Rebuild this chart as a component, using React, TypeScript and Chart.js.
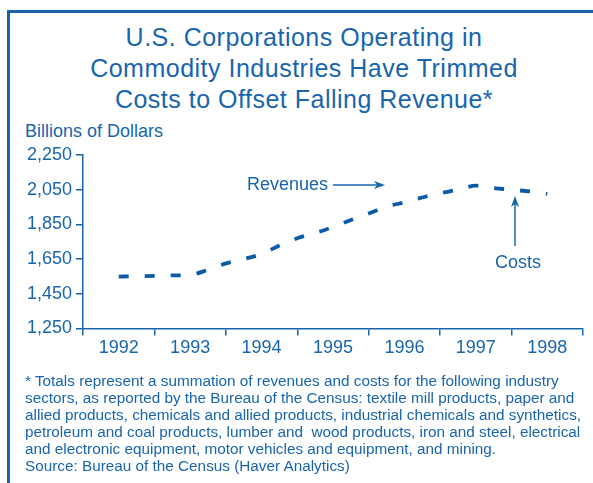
import React, { useEffect, useRef } from "react";
import { Chart, registerables } from "chart.js";

Chart.register(...registerables);

const years = ["1992", "1993", "1994", "1995", "1996", "1997", "1998"];
const yTicks = [1250, 1450, 1650, 1850, 2050, 2250];
// quarterly positions (0 = 1992)
const quarterPos = [
  0, 0.25, 0.5, 0.75, 1, 1.25, 1.5, 1.75, 2, 2.25, 2.5, 2.75, 3, 3.25, 3.5,
  3.75, 4, 4.25, 4.5, 4.75, 5, 5.25, 5.5, 5.75, 6,
];
const costValues = [
  1549, 1551, 1553, 1556, 1559, 1588, 1625, 1650, 1680, 1728, 1770, 1800,
  1835, 1875, 1913, 1952, 1977, 2005, 2030, 2050, 2073, 2060, 2050, 2040, 2026,
];

const titleLines = [
  "U.S. Corporations Operating in",
  "Commodity Industries Have Trimmed",
  "Costs to Offset Falling Revenue*",
];
const footLines = [
  "* Totals represent a summation of revenues and costs for the following industry",
  "sectors, as reported by the Bureau of the Census: textile mill products, paper and",
  "allied products, chemicals and allied products, industrial chemicals and synthetics,",
  "petroleum and coal products, lumber and  wood products, iron and steel, electrical",
  "and electronic equipment, motor vehicles and equipment, and mining.",
  "Source: Bureau of the Census (Haver Analytics)",
];

// annotations in data coordinates (x = year index, y = billions)
const revLabel = { text: "Revenues", x: 1.796, y: 2077 };
const revArrow = { x1: 3.0, x2: 3.728, y: 2077 };
const costLabel = { text: "Costs", x: 5.59, y: 1627 };
const costArrow = { x: 5.548, y1: 1726, y2: 2014 };

const TEXT = "#1865ae";
const LINE = "#0b5ca8";
const FONT = "'Liberation Sans', Arial, Helvetica, sans-serif";

const annotationPlugin = {
  id: "annots",
  afterDatasetsDraw(chart: any) {
    const ctx = chart.ctx;
    const xs = chart.scales.x2;
    const ys = chart.scales.y;
    ctx.save();
    ctx.fillStyle = TEXT;
    ctx.strokeStyle = TEXT;
    ctx.font = `18px ${FONT}`;
    ctx.textBaseline = "middle";
    ctx.textAlign = "left";
    ctx.fillText(revLabel.text, xs.getPixelForValue(revLabel.x), ys.getPixelForValue(revLabel.y));
    ctx.textAlign = "center";
    ctx.fillText(costLabel.text, xs.getPixelForValue(costLabel.x), ys.getPixelForValue(costLabel.y));

    ctx.lineWidth = 1.5;
    // horizontal arrow
    const ax1 = xs.getPixelForValue(revArrow.x1);
    const ax2 = xs.getPixelForValue(revArrow.x2);
    const ay = ys.getPixelForValue(revArrow.y);
    ctx.beginPath();
    ctx.moveTo(ax1, ay);
    ctx.lineTo(ax2 - 6, ay);
    ctx.stroke();
    ctx.beginPath();
    ctx.moveTo(ax2, ay);
    ctx.lineTo(ax2 - 11, ay - 4);
    ctx.lineTo(ax2 - 8, ay);
    ctx.lineTo(ax2 - 11, ay + 4);
    ctx.closePath();
    ctx.fill();
    // vertical arrow
    const cx = xs.getPixelForValue(costArrow.x);
    const cy1 = ys.getPixelForValue(costArrow.y1);
    const cy2 = ys.getPixelForValue(costArrow.y2);
    ctx.beginPath();
    ctx.moveTo(cx, cy1);
    ctx.lineTo(cx, cy2 + 6);
    ctx.stroke();
    ctx.beginPath();
    ctx.moveTo(cx, cy2);
    ctx.lineTo(cx - 4, cy2 + 11);
    ctx.lineTo(cx, cy2 + 8);
    ctx.lineTo(cx + 4, cy2 + 11);
    ctx.closePath();
    ctx.fill();
    ctx.restore();
  },
};

export default function App() {
  const ref = useRef<HTMLCanvasElement | null>(null);

  useEffect(() => {
    if (!ref.current) return;
    const chart = new Chart(ref.current, {
      type: "line",
      data: {
        labels: years,
        datasets: [
          {
            label: "Costs",
            xAxisID: "x2",
            yAxisID: "y",
            data: quarterPos.map((x, i) => ({ x, y: costValues[i] })),
            borderColor: LINE,
            borderWidth: 3.8,
            borderDash: [10, 16],
            pointRadius: 0,
            cubicInterpolationMode: "monotone",
            fill: false,
          },
        ],
      },
      options: {
        animation: false,
        responsive: false,
        layout: { padding: { left: 0, right: 10, top: 155, bottom: 124.5 } },
        plugins: {
          legend: { display: false },
          tooltip: { enabled: false },
          title: { display: false },
        },
        scales: {
          x: {
            type: "category",
            offset: true,
            grid: {
              offset: true,
              drawOnChartArea: false,
              tickLength: 7,
              color: TEXT,
              lineWidth: 1.5,
            },
            border: { display: true, color: TEXT, width: 1.5 },
            ticks: { color: TEXT, font: { family: FONT, size: 18 }, padding: 2 },
            afterFit: (s: any) => {
              s.height = 30;
              s.paddingLeft = 0;
              s.paddingRight = 0;
            },
          },
          x2: {
            type: "linear",
            min: -0.5,
            max: 6.5,
            display: false,
          },
          y: {
            type: "linear",
            min: 1250,
            max: 2250,
            afterBuildTicks: (s: any) => {
              s.ticks = yTicks.map((v) => ({ value: v }));
            },
            grid: {
              drawOnChartArea: false,
              tickLength: 7,
              color: TEXT,
              lineWidth: 1.5,
            },
            border: { display: true, color: TEXT, width: 1.5 },
            ticks: {
              color: TEXT,
              font: { family: FONT, size: 18 },
              padding: 4,
              callback: (v: any) => Number(v).toLocaleString("en-US"),
            },
            afterFit: (s: any) => {
              s.width = 83;
              s.paddingTop = 0;
              s.paddingBottom = 0;
            },
          },
        },
      } as any,
      plugins: [annotationPlugin],
    });
    return () => chart.destroy();
  }, []);

  return (
    <div
      style={{
        position: "absolute",
        left: 0,
        top: 0,
        width: 593,
        height: 483,
        overflow: "hidden",
        background: "#fff",
        fontFamily: FONT,
        color: TEXT,
      }}
    >
      <div
        style={{
          position: "absolute",
          left: 7,
          top: 10,
          width: 594,
          height: 520,
          border: `3px solid ${TEXT}`,
          boxSizing: "border-box",
        }}
      />
      <div
        style={{
          position: "absolute",
          left: 7,
          top: 21.5,
          width: 594,
          textAlign: "center",
          fontSize: 25,
          lineHeight: "31px",
          letterSpacing: "0.5px",
        }}
      >
        {titleLines.map((l, i) => (
          <div key={i}>{l}</div>
        ))}
      </div>
      <div
        style={{
          position: "absolute",
          left: 25,
          top: 121.5,
          fontSize: 18,
          lineHeight: "18px",
          whiteSpace: "nowrap",
        }}
      >
        Billions of Dollars
      </div>
      <canvas
        ref={ref}
        width={593}
        height={483}
        style={{ position: "absolute", left: 0, top: 0, width: 593, height: 483 }}
      />
      <div
        style={{
          position: "absolute",
          left: 25,
          top: 371.8,
          fontSize: 15.3,
          lineHeight: "17px",
          whiteSpace: "pre",
        }}
      >
        {footLines.map((l, i) => (
          <div key={i}>{l}</div>
        ))}
      </div>
    </div>
  );
}
